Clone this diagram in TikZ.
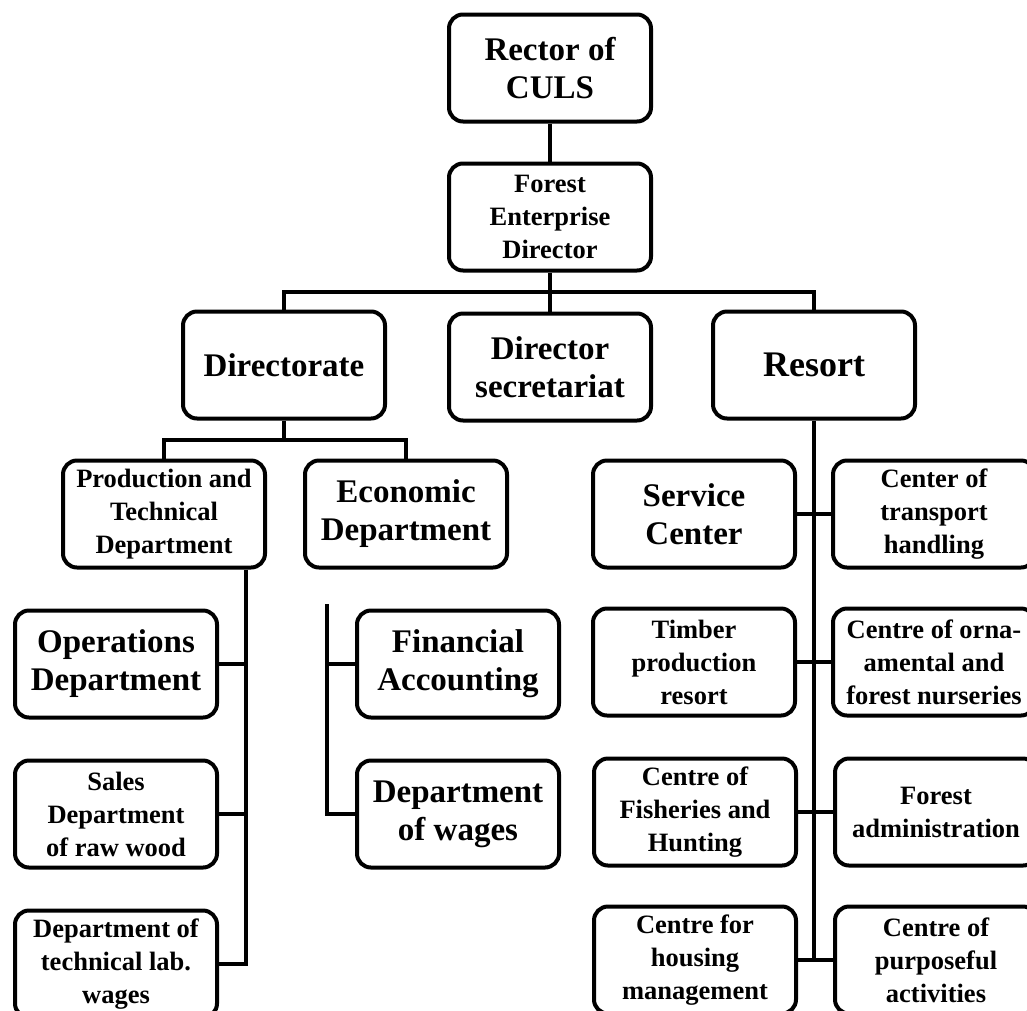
\documentclass[tikz,border=0pt]{standalone}
\usepackage{fontspec}
\setmainfont{Liberation Serif}
\usepackage{tikz}

\newcommand{\boxbigfont}{\fontsize{33}{38}\selectfont\bfseries}
\newcommand{\boxsmallfont}{\fontsize{26.5}{33}\selectfont\bfseries}

\tikzset{
    box/.style={draw, rounded corners=14pt, line width=4pt, minimum width=202pt, minimum height=107pt, align=center, inner sep=0pt},
    bigbox/.style={box, font=\boxbigfont},
    smallbox/.style={box, font=\boxsmallfont}
}

\begin{document}
\begin{tikzpicture}[x=1pt, y=-1pt, line width=4.5pt]
        \useasboundingbox (0,0) rectangle (1027,1010);
        \clip (0,0) rectangle (1027,1010);

        \node[bigbox] (rector) at (550,68) {Rector of\\CULS};
        \node[smallbox] (fed) at (550,217) {Forest\\Enterprise\\Director};
        \node[bigbox] (dir) at (284,365) {Directorate};
        \node[bigbox] (dsec) at (550,367) {Director\\secretariat};
        \node[bigbox, font=\fontsize{36}{40}\selectfont\bfseries] (resort) at (814,365) {Resort};

        \node[smallbox] (prod) at (164,514) {Production and\\Technical\\Department};
        \node[bigbox] (econ) at (406,514) {Economic\\Department};
        \node[bigbox] (ops) at (116,664) {Operations\\Department};
        \node[smallbox] (sales) at (116,814) {Sales\\Department\\of raw wood};
        \node[smallbox] (techlab) at (116,964) {Department of\\technical lab.\\wages};
        \node[bigbox] (fin) at (458,664) {Financial\\Accounting};
        \node[bigbox] (wages) at (458,814) {Department\\of wages};

        \node[bigbox] (service) at (694,514) {Service\\Center};
        \node[smallbox] (transport) at (934,514) {Center of\\transport\\handling};
        \node[smallbox] (timber) at (694,662) {Timber\\production\\resort};
        \node[smallbox] (nursery) at (934,662) {Centre of orna-\\amental and\\forest nurseries};
        \node[smallbox] (fish) at (695,812) {Centre of\\Fisheries and\\Hunting};
        \node[smallbox] (forest) at (936,812) {Forest\\administration};
        \node[smallbox] (housing) at (695,960) {Centre for\\housing\\management};
        \node[smallbox] (purpose) at (936,960) {Centre of\\purposeful\\activities};

        \coordinate (bar) at (550,292);
        \coordinate (dirbar) at (284,440);
        \coordinate (prodbot) at (246,964);
        \coordinate (econtop) at (327,604);

        \draw (rector) -- (fed);
        \draw (fed) -- (dsec);
        \draw (dir.north) |- (bar) -| (resort.north);

        \draw (dir.south) -- (dirbar);
        \draw (prod.north) |- (dirbar) -| (econ.north);
        \draw (prod.south -| prodbot) -- (prodbot) -- (techlab.east);
        \draw (ops) -- (ops -| prodbot);
        \draw (sales) -- (sales -| prodbot);

        \draw (econtop) |- (wages.west);
        \draw (fin.west) -- (fin.west -| econtop);

        \draw (resort.south) -- (resort.south |- housing.east);
        \draw (service) -- (transport);
        \draw (timber) -- (nursery);
        \draw (fish) -- (forest);
        \draw (housing) -- (purpose);
\end{tikzpicture}
\end{document}
